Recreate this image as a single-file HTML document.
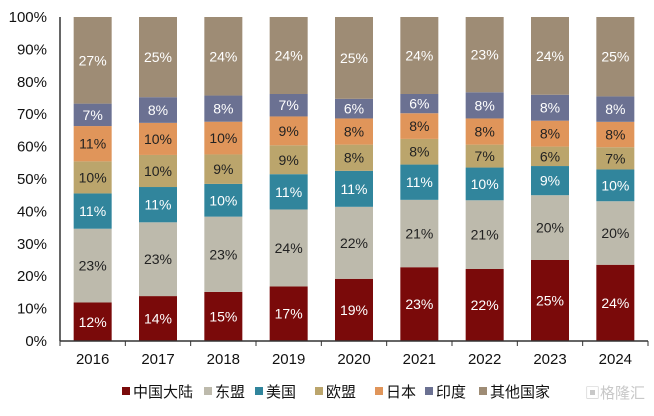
<!DOCTYPE html>
<html><head><meta charset="utf-8"><style>
body{margin:0;background:#fff;}
text{font-family:"Liberation Sans","Noto Sans CJK SC",sans-serif;}
</style></head><body>
<svg width="654" height="411">
<g id="plot"></g>
<g id="legend"></g>
<text x="585" y="398" font-size="15" fill="#c8c8c8">▣格隆汇</text>
</svg>
<script>
const years=["2016","2017","2018","2019","2020","2021","2022","2023","2024"];
const seriesNames=["中国大陆","东盟","美国","欧盟","日本","印度","其他国家"];
const china=[12,14,15,17,19,23,22,25,24];
const asean=[23,23,23,24,22,21,21,20,20];
const usa=[11,11,10,11,11,11,10,9,10];
const eu=[10,10,9,9,8,8,7,6,7];
const japan=[11,10,10,9,8,8,8,8,8];
const india=[7,8,8,7,6,6,8,8,8];
const others=[27,25,24,24,25,24,23,24,25];
const yTicks=[0,10,20,30,40,50,60,70,80,90,100];
const series=[china,asean,usa,eu,japan,india,others];
const colors=["#7a0a0a","#bdbaac","#31859c","#bba56c","#e0955a","#6b7192","#9e8c75"];
const txtCol=["#fff","#222","#fff","#222","#222","#fff","#fff"];
const NS="http://www.w3.org/2000/svg";
const X0=60,X1=648,Y0=341,Y1=17;
const step=(X1-X0)/years.length;
const xc=i=>X0+step*(i+0.5);
const y=v=>Y0-(Y0-Y1)*v/100;
const plot=document.getElementById('plot');
function mk(tag,attrs,parent){const e=document.createElementNS(NS,tag);for(const k in attrs)e.setAttribute(k,attrs[k]);parent.appendChild(e);return e;}
yTicks.forEach(t=>{
  const e=mk('text',{x:47,y:y(t)+5,'font-size':15,'text-anchor':'end',fill:'#111'},plot);
  
  
  e.textContent=t+'%';
});
years.forEach((yr,i)=>{
  const tot=series.reduce((s,a)=>s+a[i],0);
  let acc=0;
  series.forEach((a,k)=>{
    const v=a[i]/tot*100;
    const r=mk('rect',{x:xc(i)-19,y:y(acc+v),width:38,height:y(acc)-y(acc+v),fill:colors[k]},plot);
    
    
    const t=mk('text',{x:xc(i),y:(y(acc)+y(acc+v))/2+5,'font-size':14,'text-anchor':'middle',fill:txtCol[k]},plot);
    
    
    t.textContent=a[i]+'%';
    acc+=v;
  });
  const l=mk('text',{x:xc(i),y:364,'font-size':15,'text-anchor':'middle',fill:'#111'},plot);
  
  
  l.textContent=yr;
});
mk('line',{x1:X0,y1:Y1,x2:X0,y2:Y0,stroke:'#333','stroke-width':1.5},plot);
mk('line',{x1:X0,y1:Y0,x2:X1,y2:Y0,stroke:'#333','stroke-width':1.5},plot);
for(let i=0;i<=years.length;i++)mk('line',{x1:X0+step*i,y1:Y0,x2:X0+step*i,y2:Y0+5,stroke:'#333'},plot);
const lx=[122,204,255,315,375,425,479];
const lg=document.getElementById('legend');
seriesNames.forEach((n,k)=>{
  const g=mk('g',{},lg);
  
  
  mk('rect',{x:lx[k],y:387,width:8,height:8,fill:colors[k]},g);
  const t=mk('text',{x:lx[k]+11,y:397,'font-size':15,fill:'#111'},g);
  t.textContent=n;
});
</script>
</body></html>
